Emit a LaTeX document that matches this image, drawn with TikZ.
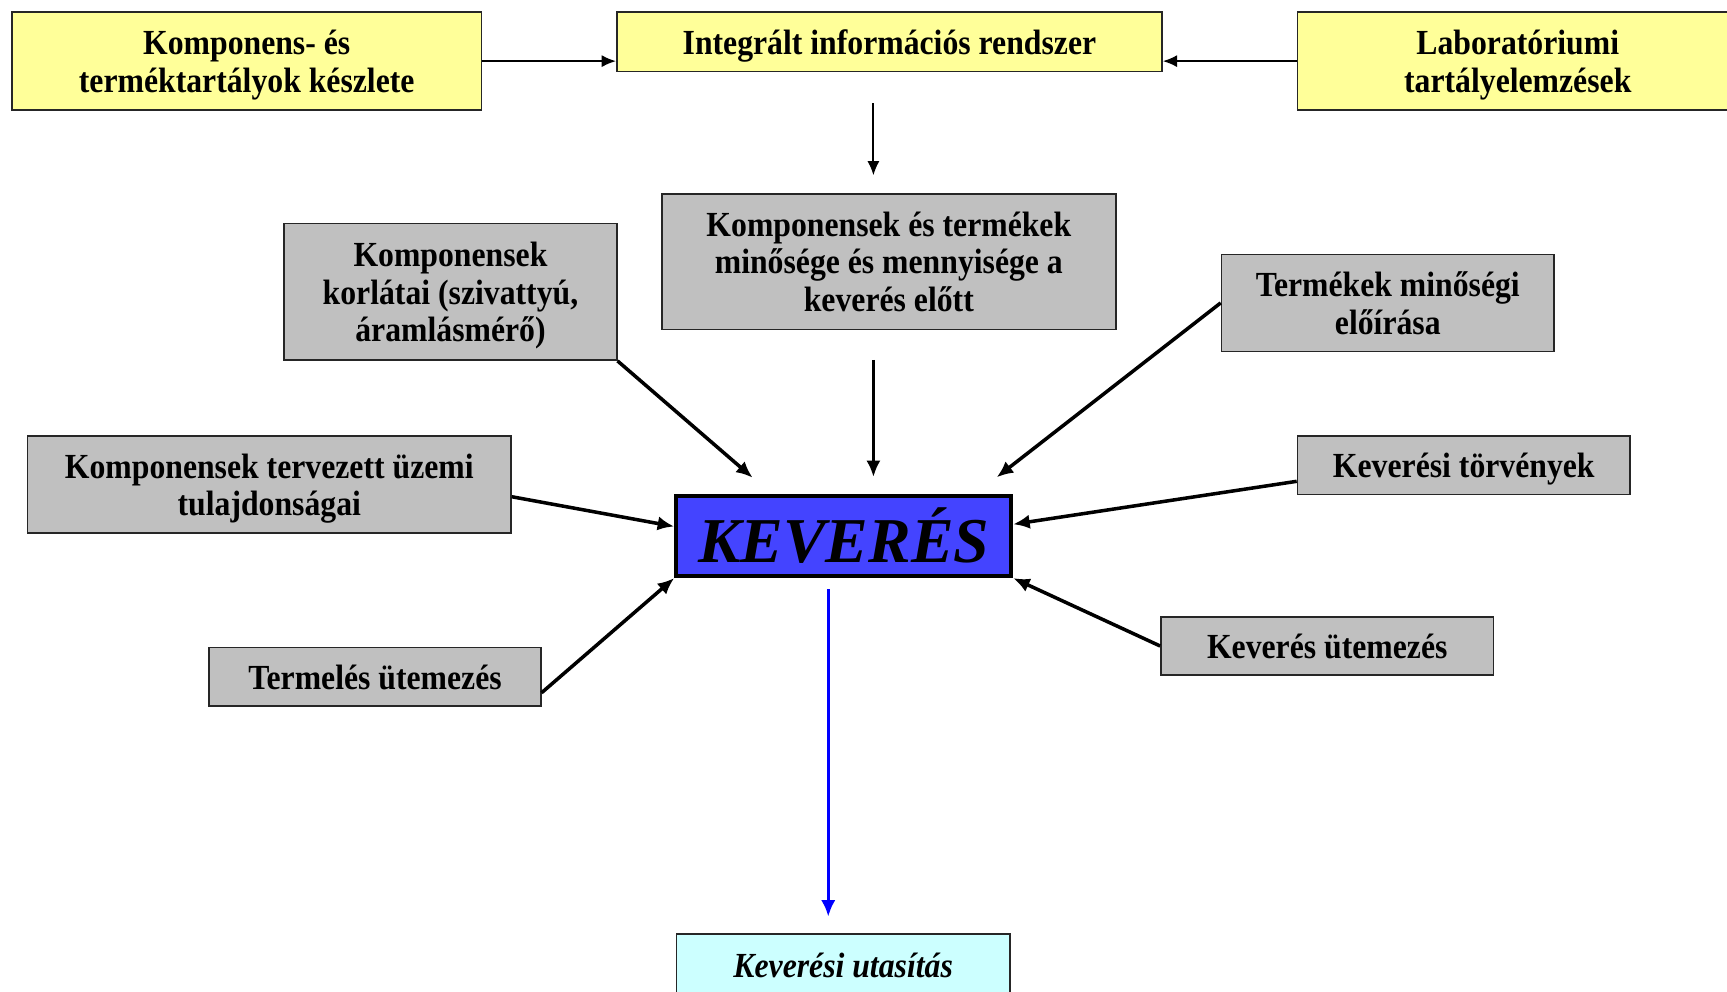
\documentclass[tikz,border=0pt]{standalone}
\usepackage{fontspec}
\setmainfont{Liberation Serif}[FakeStretch=0.9]
\newfontfamily\cimfont{Liberation Serif}
\usetikzlibrary{arrows.meta}

\definecolor{sarga}{HTML}{FFFF99}
\definecolor{szurke}{HTML}{C0C0C0}
\definecolor{kek}{HTML}{4444FF}
\definecolor{cian}{HTML}{CCFFFF}

\tikzset{
  doboz/.style={draw=black!85, line width=1.4pt, align=center, inner sep=0pt,
    text depth=0pt, font=\fontsize{32}{34}\selectfont\bfseries},
  ydoboz/.style={doboz, fill=sarga},
  gdoboz/.style={doboz, fill=szurke},
  nyil/.style={line width=3.2pt, -{Latex[length=15pt,width=13pt]}},
  vnyil/.style={line width=1.8pt, -{Latex[length=13pt,width=11pt]}},
}

\begin{document}
\begin{tikzpicture}[x=1pt, y=-1pt]
  \useasboundingbox (0,0) rectangle (1568,900);
  % 上排：黄色框
  \node[ydoboz, minimum width=426pt, minimum height=89pt] (keszlet) at (224,55.5)
    {Komponens- és\\terméktartályok készlete};
  \node[ydoboz, minimum width=495pt, minimum height=54pt] (rendszer) at (807.5,38)
    {Integrált információs rendszer};
  \node[ydoboz, minimum width=400pt, minimum height=89pt] (labor) at (1378,55.5)
    {Laboratóriumi\\tartályelemzések};
  % 中间：灰色框
  \node[gdoboz, minimum width=412pt, minimum height=123pt] (minoseg) at (807,237.5)
    {Komponensek és termékek\\minősége és mennyisége a\\keverés előtt};
  \node[gdoboz, minimum width=302pt, minimum height=124pt] (korlat) at (409,265)
    {Komponensek\\korlátai (szivattyú,\\áramlásmérő)};
  \node[gdoboz, minimum width=302pt, minimum height=88pt] (eloiras) at (1260,275)
    {Termékek minőségi\\előírása};
  \node[gdoboz, minimum width=439pt, minimum height=88pt] (tulajd) at (244.5,440)
    {Komponensek tervezett üzemi\\tulajdonságai};
  \node[gdoboz, minimum width=302pt, minimum height=53pt] (torveny) at (1329,422.5)
    {Keverési törvények};
  \node[gdoboz, minimum width=301pt, minimum height=53pt] (termeles) at (340.5,614.5)
    {Termelés ütemezés};
  \node[gdoboz, minimum width=302pt, minimum height=53pt] (utemez) at (1205,586.5)
    {Keverés ütemezés};
  % 主框
  \node[draw=black, line width=3.8pt, fill=kek, minimum width=304pt, minimum height=73pt,
    inner sep=0pt, font=\cimfont\fontsize{58}{60}\selectfont\bfseries\itshape] (keveres) at (766,486.5)
    {KEVERÉS};
  \node[doboz, fill=cian, minimum width=303pt, minimum height=56pt,
    font=\fontsize{32}{34}\selectfont\bfseries\itshape] (utasitas) at (765.5,876)
    {Keverési utasítás};
  % 上排箭头
  \draw[vnyil] (keszlet.east) -- (keszlet.east -| rendszer.west);
  \draw[vnyil] (labor.west) -- (labor.west -| rendszer.east);
  \draw[vnyil, shorten <=28pt, shorten >=16pt] ([xshift=-14.5pt]rendszer.south) -- ([xshift=-14pt]minoseg.north);
  % 指向主框
  \draw[nyil, shorten <=27pt, shorten >=15pt] ([xshift=-14pt]minoseg.south) -- ([xshift=-14pt]minoseg.south |- keveres.north);
  \draw[nyil, shorten >=22pt] (korlat.south east) -- ([xshift=-66pt]keveres.north);
  \draw[nyil, shorten >=24pt] (eloiras.west) -- ([xshift=120pt]keveres.north);
  \draw[nyil] ([yshift=-11pt]tulajd.east) -- ([yshift=8.5pt]keveres.west);
  \draw[nyil] ([yshift=-14.5pt]torveny.east -| torveny.west) -- ([yshift=10.5pt]keveres.east);
  \draw[nyil] ([yshift=-14.5pt]termeles.east) -- (keveres.south west);
  \draw[nyil] (utemez.west) -- (keveres.south east);
  % 输出
  \draw[nyil, blue, shorten <=10pt, shorten >=15pt] ([xshift=-14pt]keveres.south) -- ([xshift=-14pt]keveres.south |- utasitas.north);
\end{tikzpicture}
\end{document}
